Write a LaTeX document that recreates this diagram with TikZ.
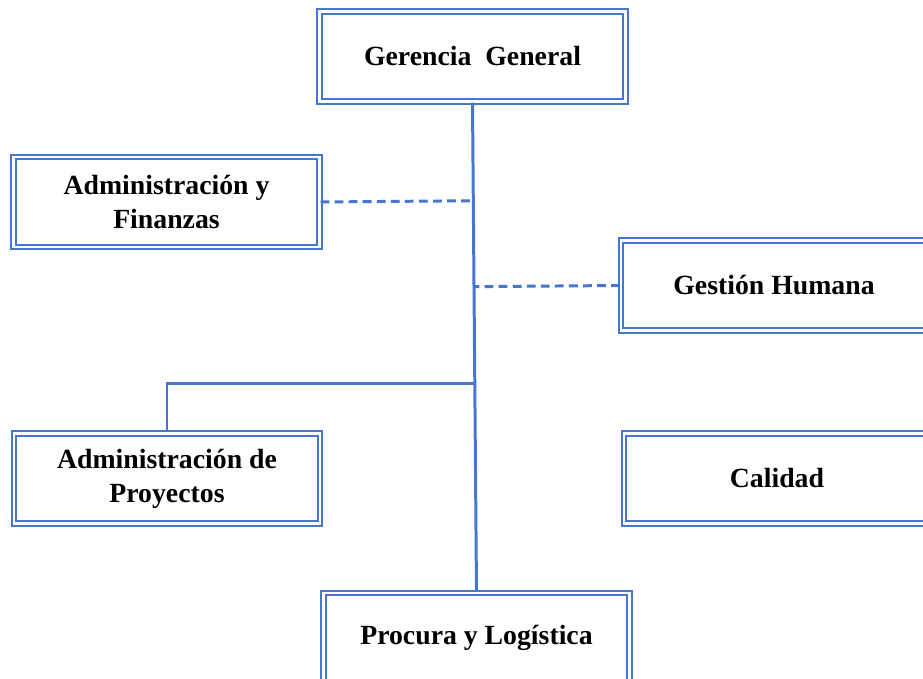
\documentclass[tikz,border=0pt]{standalone}
\usepackage{fontspec}
\setmainfont{Liberation Serif}
\usetikzlibrary{calc}
\definecolor{orgblue}{RGB}{70,118,206}
\tikzset{
  unitbox/.style={rectangle, draw=orgblue, double=white, line width=1.2pt, double distance=1.2pt,
    minimum width=6.12cm, minimum height=1.8cm, inner sep=0pt, align=center,
    font=\fontsize{15.8}{19.5}\selectfont\bfseries},
  tie/.style={draw=orgblue, line width=1.7pt}
}
\begin{document}
\begin{tikzpicture}
\useasboundingbox (0,0) rectangle (18.46,-13.58);

\node[unitbox] (vg) at (9.45,-1.13) {Gerencia\ \ General};
\node[unitbox] (vaf) at (3.33,-4.04) {Administración y\\Finanzas};
\node[unitbox] (vgh) at (15.48,-5.71) {Gestión Humana};
\node[unitbox] (vap) at (3.34,-9.57) {Administración de\\Proyectos};
\node[unitbox] (vc) at (15.54,-9.57) {Calidad};
\node[unitbox] (vpl) at (9.53,-12.76) {Procura y Logística};

\coordinate (vj) at ($(vg.south)!0.575!(vpl.north)$);

\draw[tie]  (vg.south) -- (vpl.north);
\draw[tie, dash pattern=on 5pt off 3pt]  (vaf.east) -- ($(vg.south)!(vaf.east)!(vpl.north)$);
\draw[tie, dash pattern=on 5pt off 3pt]  (vgh.west) -- ($(vg.south)!(vgh.west)!(vpl.north)$);
\draw[tie]  (vap.north) |- (vj);

\end{tikzpicture}
\end{document}
